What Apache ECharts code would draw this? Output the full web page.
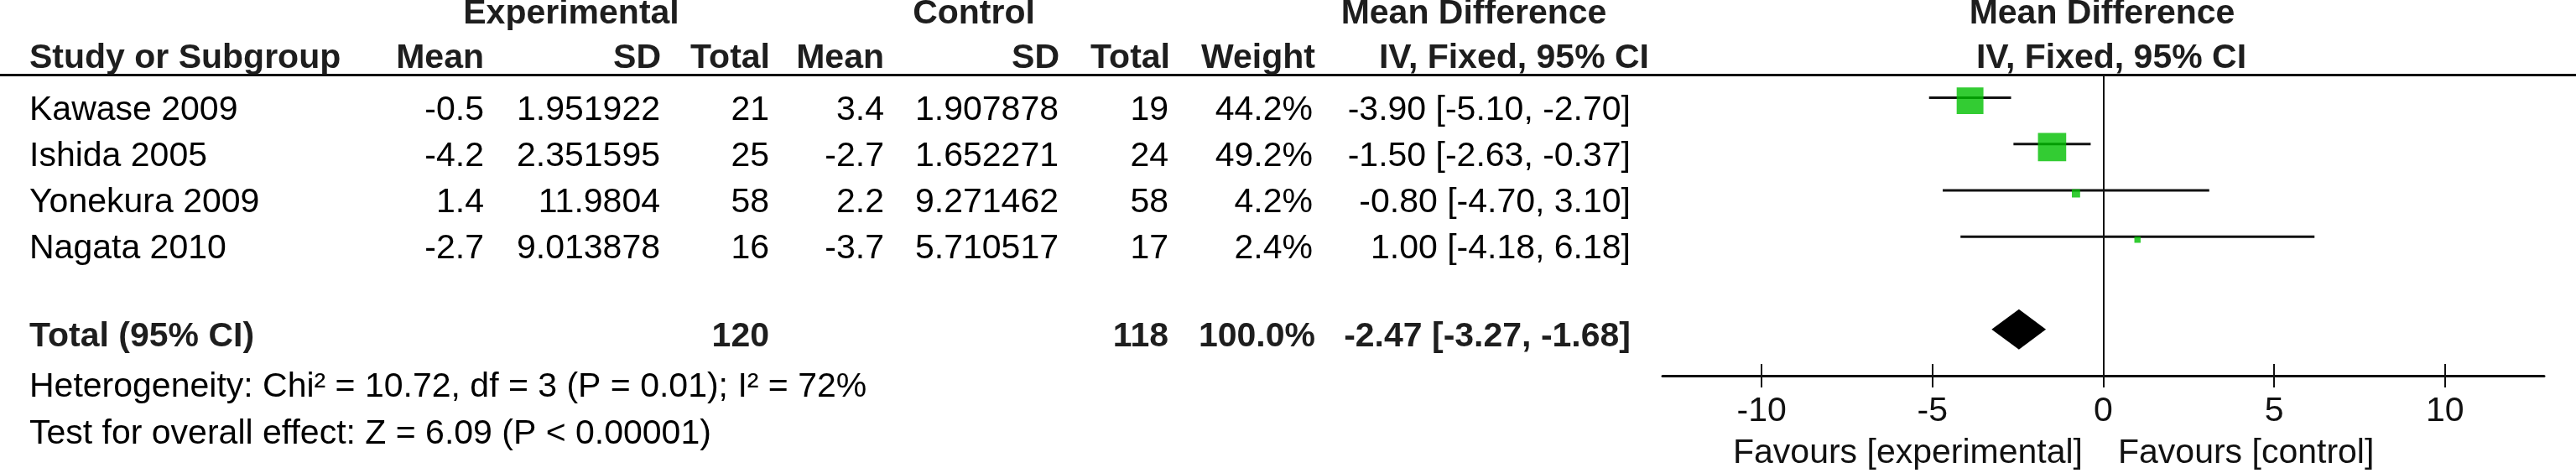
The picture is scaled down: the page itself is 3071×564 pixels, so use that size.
<!DOCTYPE html>
<html>
<head>
<meta charset="utf-8">
<script src="https://cdn.jsdelivr.net/npm/echarts@6/dist/echarts.min.js"></script>
<style>
html,body{margin:0;padding:0;background:#fff;overflow:hidden;}
#chart{width:3071px;height:564px;}
</style>
</head>
<body>
<div id="chart"></div>
<script>
// ---- data ----
const studies   = ['Kawase 2009', 'Ishida 2005', 'Yonekura 2009', 'Nagata 2010'];
const expMean   = [-0.5, -4.2, 1.4, -2.7];
const expSD     = ['1.951922', '2.351595', '11.9804', '9.013878'];
const expTotal  = [21, 25, 58, 16];
const ctrlMean  = [3.4, -2.7, 2.2, -3.7];
const ctrlSD    = ['1.907878', '1.652271', '9.271462', '5.710517'];
const ctrlTotal = [19, 24, 58, 17];
const weights   = [44.2, 49.2, 4.2, 2.4];
const meanDiff  = [-3.90, -1.50, -0.80, 1.00];
const ciLow     = [-5.10, -2.63, -4.70, -4.18];
const ciHigh    = [-2.70, -0.37, 3.10, 6.18];
const totalExp = 120, totalCtrl = 118, totalWeight = 100.0;
const totalMD = -2.47, totalLow = -3.27, totalHigh = -1.68;
const tickValues = [-10, -5, 0, 5, 10];
const heterogeneityText = 'Heterogeneity: Chi\u00B2 = 10.72, df = 3 (P = 0.01); I\u00B2 = 72%';
const overallText = 'Test for overall effect: Z = 6.09 (P < 0.00001)';
const favoursLeft = 'Favours [experimental]';
const favoursRight = 'Favours [control]';

// ---- layout ----
const FONT = "'Liberation Sans', Arial, Helvetica, sans-serif";
const FS = 41;
const rowTextY0 = 131.5, rowStep = 55.2;
const totalRowIdx = studies.length + 1;

function T(text, x, y, align, bold, size, color) {
  return {
    type: 'text', x: x, y: y, silent: true,
    style: {
      text: String(text),
      font: (bold ? 'bold ' : '') + (size || FS) + 'px ' + FONT,
      fill: color || (bold ? '#1e1e1e' : '#000'),
      textAlign: align, align: align,
      textVerticalAlign: 'middle', verticalAlign: 'middle'
    }
  };
}

const fmt2 = v => v.toFixed(2);
const ciStr = (m, l, h) => fmt2(m) + ' [' + fmt2(l) + ', ' + fmt2(h) + ']';

const g = [];
// header rows
g.push(T('Experimental', 681, 17, 'center', true));
g.push(T('Control', 1161, 17, 'center', true));
g.push(T('Mean Difference', 1757, 17, 'center', true));
g.push(T('Mean Difference', 2506, 17, 'center', true));
g.push(T('Study or Subgroup', 35, 70, 'left', true));
g.push(T('Mean', 577, 70, 'right', true));
g.push(T('SD', 788, 70, 'right', true));
g.push(T('Total', 918, 70, 'right', true));
g.push(T('Mean', 1054, 70, 'right', true));
g.push(T('SD', 1263, 70, 'right', true));
g.push(T('Total', 1395, 70, 'right', true));
g.push(T('Weight', 1568, 70, 'right', true));
g.push(T('IV, Fixed, 95% CI', 1966, 70, 'right', true));
g.push(T('IV, Fixed, 95% CI', 2517, 70, 'center', true));
// header rule
g.push({ type: 'line', silent: true, shape: { x1: 0, y1: 89.5, x2: 3071, y2: 89.5 },
  style: { stroke: '#111', lineWidth: 3 } });

// study rows
studies.forEach((s, i) => {
  const y = rowTextY0 + i * rowStep;
  g.push(T(s, 35, y, 'left'));
  g.push(T(expMean[i], 577, y, 'right'));
  g.push(T(expSD[i], 787, y, 'right'));
  g.push(T(expTotal[i], 917, y, 'right'));
  g.push(T(ctrlMean[i], 1054, y, 'right'));
  g.push(T(ctrlSD[i], 1262, y, 'right'));
  g.push(T(ctrlTotal[i], 1393, y, 'right'));
  g.push(T(weights[i].toFixed(1) + '%', 1565, y, 'right'));
  g.push(T(ciStr(meanDiff[i], ciLow[i], ciHigh[i]), 1944, y, 'right'));
});
// total row
g.push(T('Total (95% CI)', 35, 402, 'left', true));
g.push(T(totalExp, 917, 402, 'right', true));
g.push(T(totalCtrl, 1393, 402, 'right', true));
g.push(T(totalWeight.toFixed(1) + '%', 1568, 402, 'right', true));
g.push(T(ciStr(totalMD, totalLow, totalHigh), 1944, 402, 'right', true));
g.push(T(heterogeneityText, 35, 461.5, 'left'));
g.push(T(overallText, 35, 518, 'left'));
// favours
g.push(T(favoursLeft, 2483, 541, 'right', false, FS, '#111'));
g.push(T(favoursRight, 2525, 541, 'left', false, FS, '#111'));

const chart = echarts.init(document.getElementById('chart'), null, { renderer: 'canvas' });

const ciData = studies.map((s, i) => [ciLow[i], ciHigh[i], i]);
const sqData = studies.map((s, i) => [meanDiff[i], i, weights[i]]);
const diamondData = [[totalLow, totalHigh, totalRowIdx, totalMD]];

chart.setOption({
  animation: false,
  backgroundColor: '#fff',
  grid: { left: 1982, top: 89, width: 1051, height: 359, containLabel: false },
  xAxis: [{
    type: 'value', min: -12.9, max: 12.9, position: 'bottom', offset: 0,
    splitLine: { show: false },
    axisLine: { show: true, onZero: false, lineStyle: { color: '#111', width: 3 } },
    axisTick: { show: true, inside: false, length: 14, customValues: tickValues,
      lineStyle: { color: '#111', width: 2 } },
    axisLabel: { show: true, customValues: tickValues, margin: 22,
      fontFamily: FONT, fontSize: FS, color: '#111' }
  }, {
    type: 'value', min: -12.9, max: 12.9, position: 'bottom', offset: 0,
    splitLine: { show: false },
    axisLine: { show: false, onZero: false },
    axisTick: { show: true, inside: true, length: 14, customValues: tickValues,
      lineStyle: { color: '#111', width: 2 } },
    axisLabel: { show: false }
  }],
  yAxis: { type: 'value', inverse: true, min: -0.5, max: 6, show: false },
  series: [
    {
      type: 'custom', name: 'ci', data: ciData, z: 2,
      renderItem: function (params, api) {
        const a = api.coord([api.value(0), api.value(2)]);
        const b = api.coord([api.value(1), api.value(2)]);
        return { type: 'line', shape: { x1: a[0], y1: a[1], x2: b[0], y2: b[1] },
          style: { stroke: '#111', lineWidth: 3 } };
      },
      markLine: {
        silent: true, symbol: 'none', label: { show: false },
        lineStyle: { color: '#111', width: 2, type: 'solid' },
        data: [{ xAxis: 0 }]
      }
    },
    {
      type: 'scatter', name: 'studies', data: sqData, z: 3,
      symbol: 'rect',
      symbolSize: function (v) { return 4.8 * Math.sqrt(v[2]); },
      symbolOffset: [0, 3.5],
      itemStyle: { color: '#00BF00' }
    },
    {
      type: 'custom', name: 'total', data: diamondData, z: 3,
      renderItem: function (params, api) {
        const row = api.value(2);
        const l = api.coord([api.value(0), row]);
        const r = api.coord([api.value(1), row]);
        const m = api.coord([api.value(3), row]);
        const h = 24;
        return { type: 'polygon',
          shape: { points: [[l[0], l[1]], [m[0], m[1] - h], [r[0], r[1]], [m[0], m[1] + h]] },
          style: { fill: '#000' } };
      }
    }
  ],
  graphic: { elements: g }
});
</script>
</body>
</html>
